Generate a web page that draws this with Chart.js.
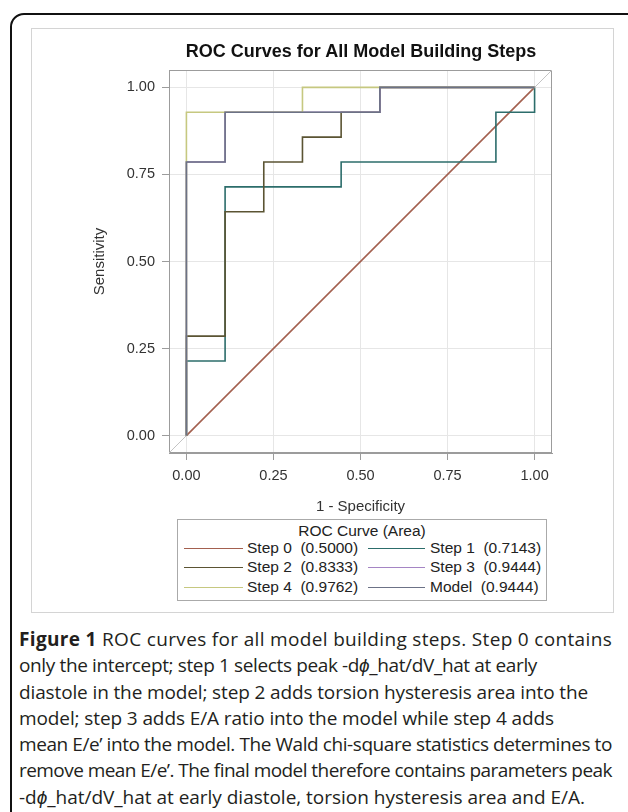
<!DOCTYPE html>
<html>
<head>
<meta charset="utf-8">
<script src="https://cdn.jsdelivr.net/npm/chart.js@4.4.0/dist/chart.umd.min.js"></script>
<style>
html, body { margin: 0; padding: 0; background: #fff; width: 628px; height: 812px; overflow: hidden; }
#frame { position: absolute; left: 10px; top: 13px; width: 660px; height: 850px; border: 2px solid #111; border-radius: 14px; }
#graph { position: absolute; left: 31px; top: 28px; width: 581px; height: 583px; border: 1px solid #d4d4d4; }
#chart-wrap { position: absolute; left: 32px; top: 28px; width: 581px; height: 490px; }
#title { position: absolute; left: 161px; width: 400px; top: 41px; text-align: center;
  font: bold 18px "Liberation Sans", Arial, sans-serif; color: #111; white-space: nowrap; }
#legend { position: absolute; left: 177px; top: 519px; width: 368px; height: 80px; border: 1px solid #aaa;
  font: 15.5px "Liberation Sans", Arial, sans-serif; color: #222; }
#legend .lt { position: absolute; left: 0; width: 100%; top: 2px; text-align: center; }
#legend .ln { position: absolute; height: 0; border-top: 1.6px solid; }
#legend .tx { position: absolute; white-space: pre; line-height: 18px; }
#caption { position: absolute; left: 19px; top: 626px; font: 19px "Open Sans", sans-serif;
  line-height: 26.3px; color: #231f20; white-space: nowrap; }
#caption span { display: inline-block; }
</style>
</head>
<body>
<div id="frame"></div>
<div id="graph"></div>
<div id="chart-wrap"><canvas id="roc" width="581" height="490"></canvas></div>
<div id="title">ROC Curves for All Model Building Steps</div>
<div id="legend"><div class="lt">ROC Curve (Area)</div></div>
<div id="caption"></div>
<script>
(function() {
"use strict";

var NAMES = ["Step 0", "Step 1", "Step 2", "Step 3", "Step 4", "Model"];
var AREAS = ["0.5000", "0.7143", "0.8333", "0.9444", "0.9762", "0.9444"];
var COLORS = ["#a3604f", "#2c6d6b", "#5b5433", "#a585c4", "#c6c880", "#6c7286"];

// 1 - specificity / sensitivity at each corner of the curves
var STEP0_X = [0, 1];
var STEP0_Y = [0, 1];
var STEP1_X = [0, 0, 0.1111, 0.1111, 0.4444, 0.4444, 0.8889, 0.8889, 1, 1];
var STEP1_Y = [0, 0.2143, 0.2143, 0.7143, 0.7143, 0.7857, 0.7857, 0.9286, 0.9286, 1];
var STEP2_X = [0, 0, 0.1111, 0.1111, 0.2222, 0.2222, 0.3333, 0.3333, 0.4444, 0.4444, 0.5556, 0.5556, 1];
var STEP2_Y = [0, 0.2857, 0.2857, 0.6429, 0.6429, 0.7857, 0.7857, 0.8571, 0.8571, 0.9286, 0.9286, 1, 1];
var STEP3_X = [0, 0, 0.1111, 0.1111, 0.5556, 0.5556, 1];
var STEP3_Y = [0, 0.7857, 0.7857, 0.9286, 0.9286, 1, 1];
var STEP4_X = [0, 0, 0.3333, 0.3333, 1];
var STEP4_Y = [0, 0.9286, 0.9286, 1, 1];
var MODEL_X = [0, 0, 0.1111, 0.1111, 0.5556, 0.5556, 1];
var MODEL_Y = [0, 0.7857, 0.7857, 0.9286, 0.9286, 1, 1];

var REF_X = [-0.05, 1.05];
var REF_Y = [-0.05, 1.05];

var TICKS = [0, 0.25, 0.5, 0.75, 1];
var AXIS_MIN = -0.05, AXIS_MAX = 1.05;

var CAPTION_LINES = [
  "<b>Figure 1</b> ROC curves for all model building steps. Step 0 contains",
  "only the intercept; step 1 selects peak -d<i>ϕ</i>_hat/dV_hat at early",
  "diastole in the model; step 2 adds torsion hysteresis area into the",
  "model; step 3 adds E/A ratio into the model while step 4 adds",
  "mean E/e’ into the model. The Wald chi-square statistics determines to",
  "remove mean E/e’. The final model therefore contains parameters peak",
  "-d<i>ϕ</i>_hat/dV_hat at early diastole, torsion hysteresis area and E/A."
];
// right edge of each caption line in the figure
var CAPTION_ENDS = [612, 537, 588, 554, 612, 612, 585];

var SERIES_X = [STEP0_X, STEP1_X, STEP2_X, STEP3_X, STEP4_X, MODEL_X];
var SERIES_Y = [STEP0_Y, STEP1_Y, STEP2_Y, STEP3_Y, STEP4_Y, MODEL_Y];

function pts(xs, ys) {
  return xs.map(function(x, i) { return { x: x, y: ys[i] }; });
}

var FONT = "'Liberation Sans', Arial, sans-serif";
var AXIS_GREY = "#9c9c9c";

var datasets = [{
  label: "ref",
  data: pts(REF_X, REF_Y),
  borderColor: "#c4c4c4",
  borderWidth: 1,
  order: 10
}];
NAMES.forEach(function(n, i) {
  datasets.push({
    label: n + "  (" + AREAS[i] + ")",
    data: pts(SERIES_X[i], SERIES_Y[i]),
    borderColor: COLORS[i],
    borderWidth: 1.6,
    order: NAMES.length - i
  });
});

var framePlugin = {
  id: "frame",
  beforeDatasetsDraw: function(chart) {
    var a = chart.chartArea, c = chart.ctx;
    c.save();
    c.strokeStyle = AXIS_GREY;
    c.lineWidth = 1;
    c.strokeRect(a.left + 0.5, a.top + 0.5, a.right - a.left - 1, a.bottom - a.top - 1);
    c.restore();
  }
};

function fixTicks(scale) {
  scale.ticks = TICKS.map(function(v) { return { value: v }; });
}

new Chart(document.getElementById("roc").getContext("2d"), {
  type: "scatter",
  data: { datasets: datasets },
  plugins: [framePlugin],
  options: {
    responsive: false,
    animation: false,
    showLine: true,
    elements: { point: { radius: 0, hoverRadius: 0 }, line: { tension: 0, fill: false } },
    layout: { padding: { top: 42, left: 0, right: 61, bottom: 0 } },
    plugins: { legend: { display: false }, tooltip: { enabled: false }, title: { display: false } },
    scales: {
      x: {
        type: "linear", min: AXIS_MIN, max: AXIS_MAX,
        afterBuildTicks: fixTicks,
        afterFit: function(s) { s.height = 65; },
        grid: { color: "#e6e6e6", tickColor: AXIS_GREY, tickLength: 7 },
        border: { color: AXIS_GREY },
        ticks: { padding: 7, color: "#333", font: { family: FONT, size: 14.5 },
          callback: function(v) { return v.toFixed(2); } },
        title: { display: true, text: "1 - Specificity", color: "#333", font: { family: FONT, size: 15 },
          padding: { top: 0, bottom: 2 } }
      },
      y: {
        type: "linear", min: AXIS_MIN, max: AXIS_MAX,
        afterBuildTicks: fixTicks,
        afterFit: function(s) { s.width = 137; },
        grid: { color: "#e6e6e6", tickColor: AXIS_GREY, tickLength: 7 },
        border: { color: AXIS_GREY },
        ticks: { padding: 7, color: "#333", font: { family: FONT, size: 14.5 },
          callback: function(v) { return v.toFixed(2); } },
        title: { display: true, text: "Sensitivity", color: "#333", font: { family: FONT, size: 15 },
          padding: { top: 59, bottom: 0 } }
      }
    }
  }
});

// Legend, two columns, three rows
var legend = document.getElementById("legend");
var COL_LINE = [[6, 65], [190, 247]];
var COL_TEXT = [69, 252];
var ROW_Y = [28, 47, 67];
NAMES.forEach(function(n, i) {
  var col = i % 2, row = Math.floor(i / 2);
  var ln = document.createElement("div");
  ln.className = "ln";
  ln.style.left = COL_LINE[col][0] + "px";
  ln.style.width = (COL_LINE[col][1] - COL_LINE[col][0]) + "px";
  ln.style.top = ROW_Y[row] + "px";
  ln.style.borderTopColor = COLORS[i];
  legend.appendChild(ln);
  var tx = document.createElement("div");
  tx.className = "tx";
  tx.style.left = COL_TEXT[col] + "px";
  tx.style.top = (ROW_Y[row] - 9) + "px";
  tx.textContent = n + "  (" + AREAS[i] + ")";
  legend.appendChild(tx);
});

// Caption: one line per row, spaced to end where the printed lines end
var cap = document.getElementById("caption");
CAPTION_LINES.forEach(function(html, i) {
  var sp = document.createElement("span");
  sp.innerHTML = html;
  cap.appendChild(sp);
  cap.appendChild(document.createElement("br"));
  var w = sp.getBoundingClientRect().width;
  var want = CAPTION_ENDS[i] - 19;
  var n = sp.textContent.length;
  sp.style.letterSpacing = ((want - w) / n).toFixed(3) + "px";
});
})();
</script>
</body>
</html>
